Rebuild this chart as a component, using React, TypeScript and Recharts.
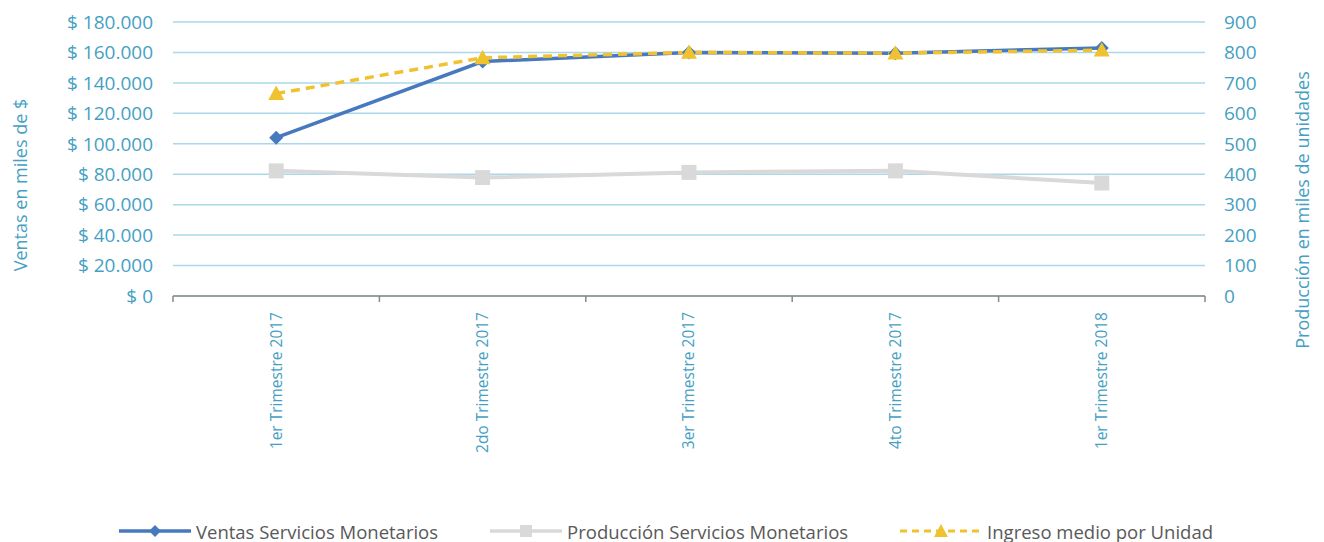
import React from 'react';
import { LineChart, Line, XAxis, YAxis, CartesianGrid, Legend } from 'recharts';

const categories = ['1er Trimestre 2017', '2do Trimestre 2017', '3er Trimestre 2017', '4to Trimestre 2017', '1er Trimestre 2018'];
const ventas = [104000, 154000, 160000, 159500, 163000];
const produccion = [411, 389, 406, 411, 371];
const ingreso = [133000, 156500, 160000, 159500, 161500];
const leftTicks = [0, 20000, 40000, 60000, 80000, 100000, 120000, 140000, 160000, 180000];
const rightTicks = [0, 100, 200, 300, 400, 500, 600, 700, 800, 900];
const seriesOrder = ['ventas', 'produccion', 'ingreso'];

const data = categories.map((c, i) => ({
  cat: c,
  ventas: ventas[i],
  produccion: produccion[i],
  ingreso: ingreso[i],
}));

const AXIS_COLOR = '#469FC3';
const BLUE = '#4679BD';
const GRAY = '#D9D9D9';
const GOLD = '#F0C230';
const FONT = '"Open Sans", sans-serif';

const fmtMoney = (v: number) => {
  if (v === 0) return '$ 0';
  const s = String(Math.round(v));
  return '$ ' + s.replace(/\B(?=(\d{3})+(?!\d))/g, '.');
};

const DiamondDot = (props: any) => {
  const { cx, cy, index } = props;
  if (cx == null || cy == null) return <g key={`d${index}`} />;
  const r = 7;
  return <path key={`d${index}`} d={`M${cx},${cy - r}L${cx + r},${cy}L${cx},${cy + r}L${cx - r},${cy}Z`} fill={BLUE} />;
};
const SquareDot = (props: any) => {
  const { cx, cy, index } = props;
  if (cx == null || cy == null) return <g key={`s${index}`} />;
  const r = 7.5;
  return <rect key={`s${index}`} x={cx - r} y={cy - r} width={2 * r} height={2 * r} fill={GRAY} />;
};
const TriangleDot = (props: any) => {
  const { cx, cy, index } = props;
  if (cx == null || cy == null) return <g key={`t${index}`} />;
  const r = 8;
  return <path key={`t${index}`} d={`M${cx},${cy - r}L${cx + r},${cy + r * 0.8}L${cx - r},${cy + r * 0.8}Z`} fill={GOLD} />;
};

const XTick = (props: any) => {
  const { x, y, payload, index, visibleTicksCount, width } = props;
  const count = visibleTicksCount || categories.length;
  const w = typeof width === 'number' && width > 100 ? width : 1032;
  const half = w / (2 * count);
  const ty = y + 16;
  return (
    <g>
      <line x1={x - half} y1={y} x2={x - half} y2={y + 6} stroke="#898989" strokeWidth={1.5} />
      {index === count - 1 && <line x1={x + half} y1={y} x2={x + half} y2={y + 6} stroke="#898989" strokeWidth={1.5} />}
      <text
        x={x}
        y={ty}
        dy="0.35em"
        textAnchor="end"
        transform={`rotate(-90, ${x}, ${ty})`}
        fill={AXIS_COLOR}
        fontSize={15.5}
        fontFamily={FONT}
      >
        {payload.value}
      </text>
    </g>
  );
};

const LeftTitle = (props: any) => {
  const vb = props.viewBox || { x: 0, y: 14, width: 165, height: 274 };
  const cx = vb.x + 13;
  const cy = vb.y + vb.height / 2 + 26;
  return (
    <text x={cx} y={cy} dy="0.35em" textAnchor="middle" transform={`rotate(-90, ${cx}, ${cy})`} fill={AXIS_COLOR} fontSize={18} fontFamily={FONT}>
      Ventas en miles de $
    </text>
  );
};
const RightTitle = (props: any) => {
  const vb = props.viewBox || { x: 1197, y: 14, width: 119, height: 274 };
  const cx = vb.x + 98;
  const cy = vb.y + vb.height / 2 + 51;
  return (
    <text x={cx} y={cy} dy="0.35em" textAnchor="middle" transform={`rotate(-90, ${cx}, ${cy})`} fill={AXIS_COLOR} fontSize={18} fontFamily={FONT}>
      Producción en miles de unidades
    </text>
  );
};

const LegendSample = ({ kind }: { kind: string }) => {
  const w = 72;
  const h = 20;
  const cy = h / 2;
  const cx = w / 2;
  if (kind === 'ventas') {
    return (
      <svg width={w} height={h}>
        <line x1={0} y1={cy} x2={w} y2={cy} stroke={BLUE} strokeWidth={3.5} />
        <path d={`M${cx},${cy - 6}L${cx + 6},${cy}L${cx},${cy + 6}L${cx - 6},${cy}Z`} fill={BLUE} />
      </svg>
    );
  }
  if (kind === 'produccion') {
    return (
      <svg width={w} height={h}>
        <line x1={0} y1={cy} x2={w} y2={cy} stroke={GRAY} strokeWidth={3.5} />
        <rect x={cx - 6} y={cy - 6} width={12} height={12} fill={GRAY} />
      </svg>
    );
  }
  return (
    <svg width={w + 10} height={h}>
      <line x1={0} y1={cy} x2={w + 10} y2={cy} stroke={GOLD} strokeWidth={3} strokeDasharray="7 5" />
      <path d={`M${cx + 5},${cy - 7}L${cx + 12},${cy + 6}L${cx - 2},${cy + 6}Z`} fill={GOLD} />
    </svg>
  );
};

const renderLegend = (props: any) => {
  const payload = [...(props.payload || [])].sort(
    (a: any, b: any) => seriesOrder.indexOf(a.dataKey) - seriesOrder.indexOf(b.dataKey)
  );
  return (
    <div style={{ display: 'flex', justifyContent: 'center', alignItems: 'center', height: 22, fontFamily: FONT, fontSize: 18.5, color: '#595959' }}>
      {payload.map((p: any, i: number) => (
        <div key={i} style={{ display: 'flex', alignItems: 'center', marginLeft: i === 0 ? 0 : 52 }}>
          <LegendSample kind={p.dataKey} />
          <span style={{ marginLeft: 5, whiteSpace: 'nowrap' }}>{p.value}</span>
        </div>
      ))}
    </div>
  );
};

export default function App() {
  return (
    <div style={{ width: 1316, height: 534 }}>
      <LineChart width={1316} height={534} data={data} margin={{ top: 14, right: 0, left: 0, bottom: 0 }}>
        <CartesianGrid horizontal vertical={false} stroke="#A9D8EA" strokeWidth={1.5} yAxisId="left" />
        <XAxis
          dataKey="cat"
          scale="band"
          height={224}
          axisLine={{ stroke: '#898989', strokeWidth: 1.5 }}
          tickLine={false}
          tickSize={0}
          tickMargin={0}
          interval={0}
          tick={<XTick />}
        />
        <YAxis
          yAxisId="left"
          orientation="left"
          width={165}
          domain={[0, 180000]}
          ticks={leftTicks}
          tickFormatter={fmtMoney}
          axisLine={false}
          tickLine={false}
          tickSize={0}
          tickMargin={20}
          tick={{ fill: AXIS_COLOR, fontSize: 19, fontFamily: FONT }}
          label={<LeftTitle />}
        />
        <YAxis
          yAxisId="right"
          orientation="right"
          width={119}
          domain={[0, 900]}
          ticks={rightTicks}
          axisLine={false}
          tickLine={false}
          tickSize={0}
          tickMargin={19}
          tick={{ fill: AXIS_COLOR, fontSize: 19, fontFamily: FONT }}
          label={<RightTitle />}
        />
        <Legend verticalAlign="bottom" height={22} content={renderLegend} />
        <Line
          yAxisId="left"
          dataKey="ventas"
          name="Ventas Servicios Monetarios"
          stroke={BLUE}
          strokeWidth={3.5}
          dot={DiamondDot}
          activeDot={false}
          isAnimationActive={false}
        />
        <Line
          yAxisId="right"
          dataKey="produccion"
          name="Producción Servicios Monetarios"
          stroke={GRAY}
          strokeWidth={4}
          dot={SquareDot}
          activeDot={false}
          isAnimationActive={false}
        />
        <Line
          yAxisId="left"
          dataKey="ingreso"
          name="Ingreso medio por Unidad"
          stroke={GOLD}
          strokeWidth={3.5}
          strokeDasharray="9 6"
          dot={TriangleDot}
          activeDot={false}
          isAnimationActive={false}
        />
      </LineChart>
    </div>
  );
}
